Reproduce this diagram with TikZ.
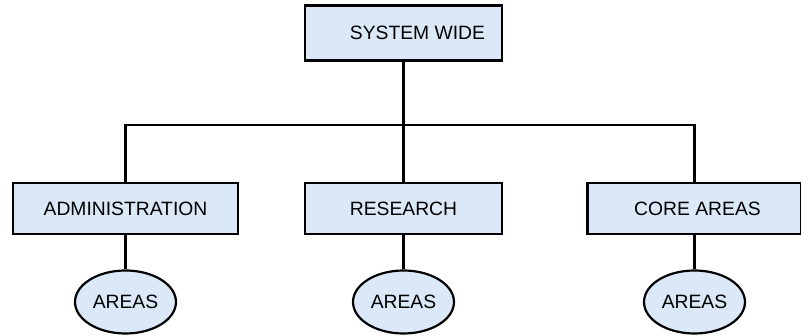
\documentclass[tikz,border=0pt]{standalone}
\usepackage{fontspec}
\setmainfont{Liberation Sans}
\usetikzlibrary{shapes.geometric}
\definecolor{boxfill}{HTML}{DAE8F8}
\begin{document}
\begin{tikzpicture}[x=1pt,y=-1pt,
  unit/.style={draw=black,line width=2.2pt,fill=boxfill,rectangle,inner sep=0pt,
    font=\fontsize{19.3}{22}\selectfont},
  area/.style={draw=black,line width=2.2pt,fill=boxfill,ellipse,inner sep=0pt,
    minimum width=101pt,minimum height=63pt,font=\fontsize{19.3}{22}\selectfont},
  link/.style={line width=2.2pt}]
\useasboundingbox (0,0) rectangle (801,336);
\node[unit,minimum width=197pt,minimum height=55pt] (sys) at (403.5,33) {\hspace{28pt}SYSTEM WIDE};
\node[unit,minimum width=225pt,minimum height=51pt] (adm) at (125.5,208.5) {ADMINISTRATION};
\node[unit,minimum width=197pt,minimum height=51pt] (res) at (403.5,208.5) {RESEARCH};
\node[unit,minimum width=214pt,minimum height=51pt] (core) at (694.5,208.5) {\hspace{6pt}CORE AREAS};
\node[area] (a1) at (125.5,302) {AREAS};
\node[area] (a2) at (403.5,302) {AREAS};
\node[area] (a3) at (694.5,302) {AREAS};
\coordinate (hub) at (403.5,125);
\draw[link] (sys.south) -- (hub);
\draw[link] (adm.north) |- (hub) -| (core.north);
\draw[link] (hub) -- (res.north);
\draw[link] (adm.south) -- (a1.north);
\draw[link] (res.south) -- (a2.north);
\draw[link] (core.south) -- (a3.north);
\end{tikzpicture}
\end{document}
